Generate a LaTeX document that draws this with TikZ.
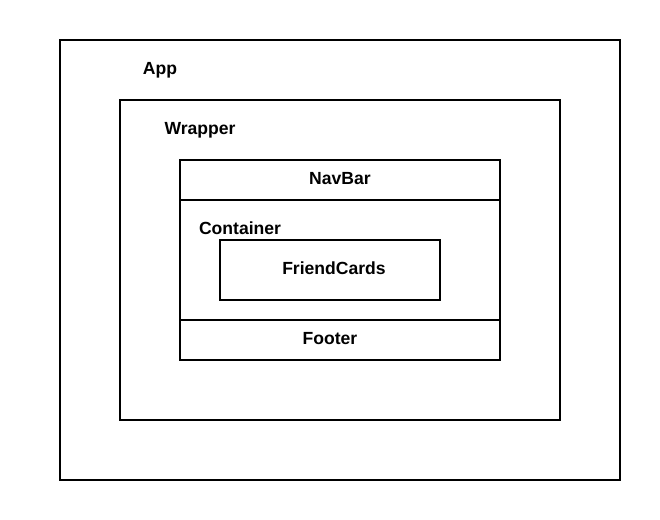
\documentclass[tikz,border=0pt]{standalone}
\usepackage{fontspec}
\setmainfont{Liberation Sans}
\usepackage{tikz}

\begin{document}
\begin{tikzpicture}[x=0.02cm, y=-0.02cm,
    box/.style={draw, line width=1.1pt, inner sep=0pt, outer sep=0pt},
    lbl/.style={anchor=base, inner sep=0pt, font=\fontsize{10}{12}\selectfont\bfseries}]
    \useasboundingbox (0,0) rectangle (660,520);

    % Outer boxes
    \node[box, minimum width=11.2cm, minimum height=8.8cm] (app) at (340,260) {};
    \node[box, minimum width=8.8cm, minimum height=6.4cm] (wrapper) at (340,260) {};

    % Page parts
    \node[box, minimum width=6.4cm, minimum height=0.8cm] (navbar) at (340,180) {};
    \node[box, minimum width=6.4cm, minimum height=2.4cm] (container) at (340,260) {};
    \node[box, minimum width=6.4cm, minimum height=0.8cm] (footer) at (340,340) {};
    \node[box, minimum width=4.4cm, minimum height=1.2cm] (cards) at (330,270) {};

    % Labels
    \node[lbl] (applbl) at (160,75) {App};
    \node[lbl] (wrapperlbl) at (200,135) {Wrapper};
    \node[lbl] (navbarlbl) at (340,185) {NavBar};
    \node[lbl] (containerlbl) at (240,235) {Container};
    \node[lbl] (cardslbl) at (334,275) {FriendCards};
    \node[lbl] (footerlbl) at (330,345) {Footer};
\end{tikzpicture}
\end{document}
